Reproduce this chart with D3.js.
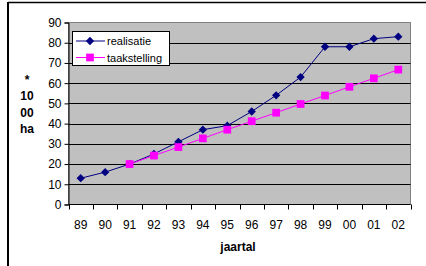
<!DOCTYPE html>
<html>
<head>
<meta charset="utf-8">
<script src="https://cdn.jsdelivr.net/npm/d3@7"></script>
<style>
	body { margin: 0; background: #fff; }
	text { font-family: Arial, "Liberation Sans", sans-serif; }
</style>
</head>
<body>
<script>
var years = ["89", "90", "91", "92", "93", "94", "95", "96", "97", "98", "99", "00", "01", "02"];
var realisatie = [13, 16, 20, 25, 31, 37, 39, 46, 54, 63, 78, 78, 82, 83];
var taakstelling = [null, null, 20, 24.2, 28.4, 32.7, 37, 41.2, 45.4, 49.7, 53.9, 58.2, 62.4, 66.7];
var yTicks = [0, 10, 20, 30, 40, 50, 60, 70, 80, 90];

var w = 426, h = 266;
var plotL = 68.5, plotR = 410.5, plotT = 22.5, plotB = 204.5;

var svg = d3.select("body")
	.append("svg")
	.attr("width", w)
	.attr("height", h);

//outer frame (only top and left visible)
svg.append("line")
	.attr("x1", 8).attr("x2", w).attr("y1", 2.5).attr("y2", 2.5)
	.style("stroke", "#000").style("stroke-width", 1.5);
svg.append("line")
	.attr("x1", 8).attr("x2", 8).attr("y1", 2).attr("y2", h)
	.style("stroke", "#000").style("stroke-width", 2);

var x = d3.scaleBand()
	.domain(years)
	.range([plotL, plotR]);

var y = d3.scaleLinear()
	.domain([0, 90])
	.range([plotB, plotT]);

//plot area
svg.append("rect")
	.attr("x", plotL).attr("y", plotT)
	.attr("width", plotR - plotL).attr("height", plotB - plotT)
	.style("fill", "#c0c0c0")
	.style("stroke", "#808080");

//gridlines
svg.selectAll(".grid")
	.data(yTicks.slice(1, -1))
	.enter()
	.append("line")
	.attr("class", "grid")
	.attr("x1", plotL).attr("x2", plotR)
	.attr("y1", function(d){ return Math.round(y(d)) + 0.5; })
	.attr("y2", function(d){ return Math.round(y(d)) + 0.5; })
	.style("stroke", "#000");

//y axis
var yAxis = svg.append("g")
	.attr("transform", "translate(" + plotL + ",0)")
	.call(d3.axisLeft(y).tickValues(yTicks).tickSize(4).tickPadding(3));
yAxis.select(".domain").style("stroke", "#000");
yAxis.selectAll("text").style("font-size", "12px").style("fill", "#000")
	.style("font-family", "Arial, 'Liberation Sans', sans-serif");

//x axis, ticks at the category boundaries
var xAxisG = svg.append("g")
	.attr("transform", "translate(0," + plotB + ")");
xAxisG.append("line")
	.attr("x1", plotL).attr("x2", plotR)
	.style("stroke", "#000");
xAxisG.selectAll(".xtick")
	.data(d3.range(years.length + 1))
	.enter()
	.append("line")
	.attr("x1", function(i){ return Math.round(plotL + i * x.step()) + 0.5; })
	.attr("x2", function(i){ return Math.round(plotL + i * x.step()) + 0.5; })
	.attr("y1", 0).attr("y2", 5)
	.style("stroke", "#000");
xAxisG.selectAll(".xlab")
	.data(years)
	.enter()
	.append("text")
	.attr("text-anchor", "middle")
	.attr("x", function(d){ return x(d) + x.bandwidth() / 2; })
	.attr("y", 24)
	.style("font-size", "12px")
	.text(function(d){ return d; });

//axis titles
svg.append("text")
	.attr("x", 238).attr("y", 251)
	.attr("text-anchor", "middle")
	.style("font-size", "12px").style("font-weight", "bold")
	.text("jaartal");

var yTitle = ["*", "10", "00", "ha"];
svg.selectAll(".ytitle")
	.data(yTitle)
	.enter()
	.append("text")
	.attr("text-anchor", "middle")
	.attr("x", 27)
	.attr("y", function(d, i){ return 84 + i * 16.3; })
	.style("font-size", "12px").style("font-weight", "bold")
	.text(function(d){ return d; });

//series
function cx(d, i){ return x(years[i]) + x.bandwidth() / 2; }

var line = d3.line()
	.defined(function(d){ return d != null; })
	.x(cx)
	.y(function(d){ return y(d); });

var square = d3.symbol().type(d3.symbolSquare).size(60);
var diamond = d3.symbol().type(d3.symbolDiamond2).size(44);

svg.append("path")
	.datum(realisatie)
	.attr("d", line)
	.style("fill", "none").style("stroke", "#000080").style("stroke-width", 1);

svg.selectAll(".dm")
	.data(realisatie)
	.enter()
	.append("path")
	.attr("d", diamond)
	.attr("transform", function(d, i){
		return "translate(" + cx(d, i) + "," + y(d) + ")";
	})
	.style("fill", "#000080");

svg.append("path")
	.datum(taakstelling)
	.attr("d", line)
	.style("fill", "none").style("stroke", "#ff00ff").style("stroke-width", 1);

svg.selectAll(".sq")
	.data(taakstelling.map(function(d, i){ return {v: d, i: i}; })
		.filter(function(d){ return d.v != null; }))
	.enter()
	.append("path")
	.attr("d", square)
	.attr("transform", function(d){
		return "translate(" + cx(d.v, d.i) + "," + y(d.v) + ")";
	})
	.style("fill", "#ff00ff");

//legend
var legend = svg.append("g");
legend.append("rect")
	.attr("x", 72.5).attr("y", 31.5)
	.attr("width", 97).attr("height", 34)
	.style("fill", "#fff").style("stroke", "#000");

var legendItems = [
	{name: "realisatie", color: "#000080", sym: diamond, yy: 41},
	{name: "taakstelling", color: "#ff00ff", sym: square, yy: 57.5}
];
legendItems.forEach(function(d){
	legend.append("line")
		.attr("x1", 76).attr("x2", 105)
		.attr("y1", d.yy).attr("y2", d.yy)
		.style("stroke", d.color);
	legend.append("path")
		.attr("d", d.sym)
		.attr("transform", "translate(90," + d.yy + ")")
		.style("fill", d.color);
	legend.append("text")
		.attr("x", 107).attr("y", d.yy + 4)
		.style("font-size", "11px")
		.text(d.name);
});
</script>
</body>
</html>
